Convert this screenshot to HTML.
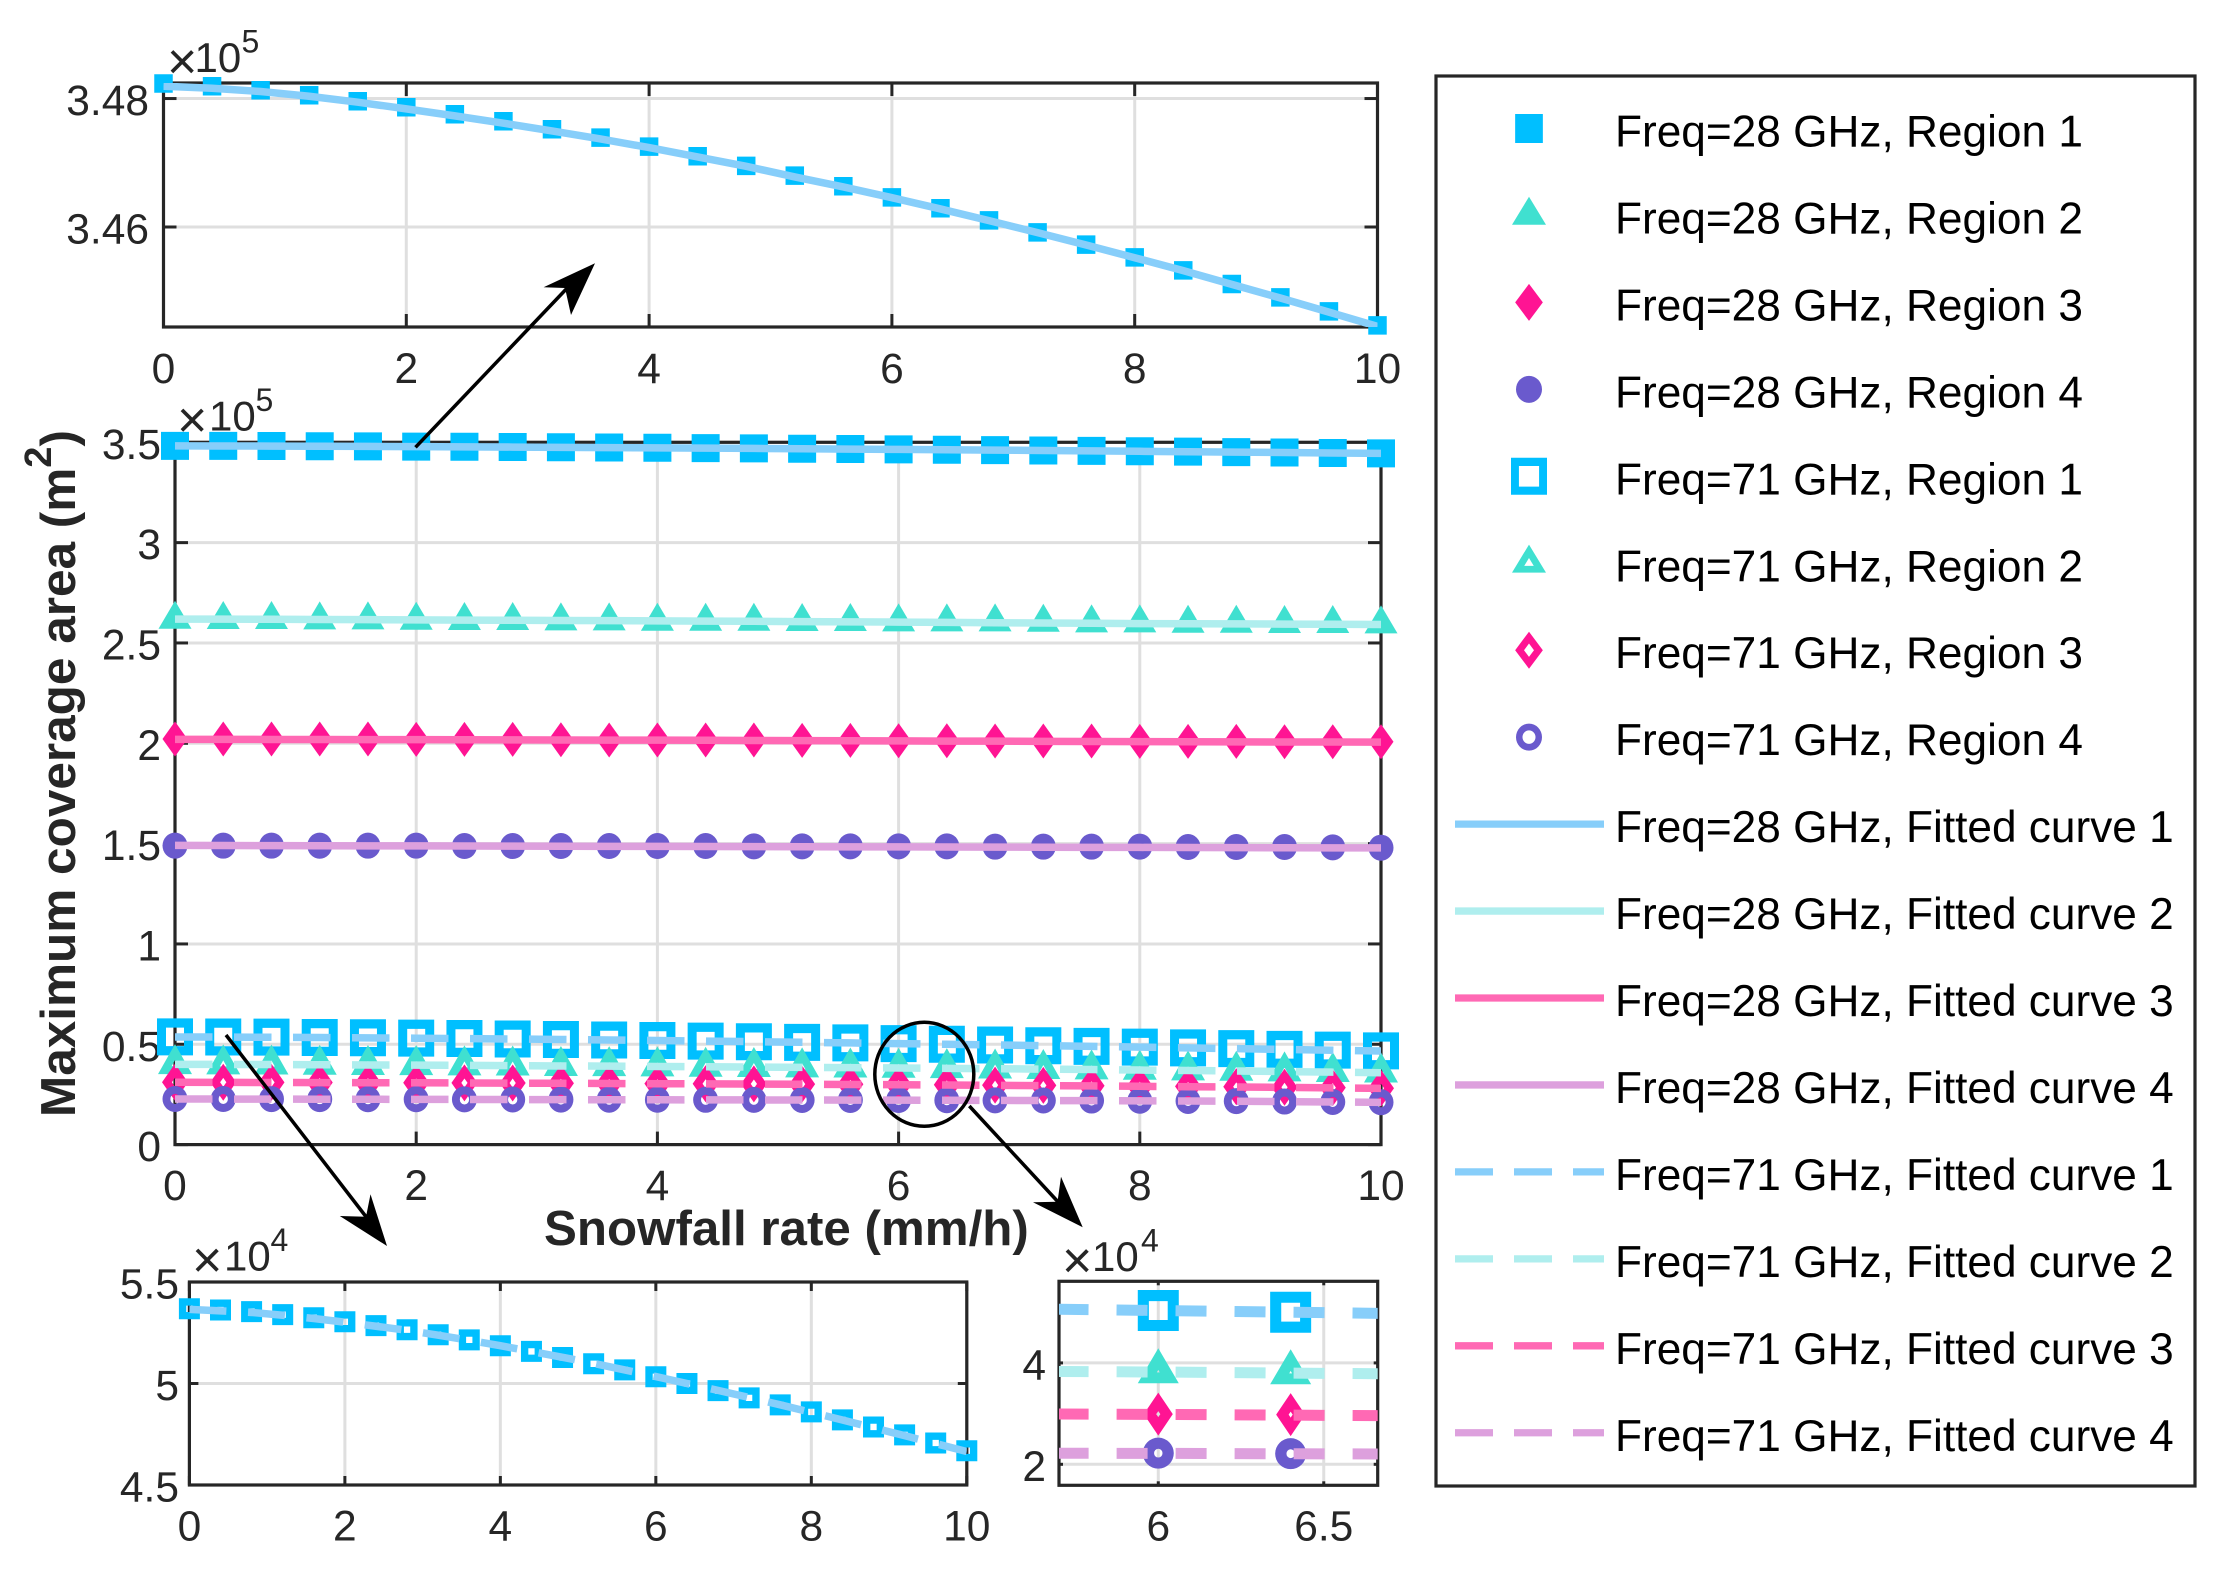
<!DOCTYPE html>
<html lang="en">
<head>
<meta charset="utf-8">
<title>Maximum coverage area vs snowfall rate</title>
<style>
html,body{margin:0;padding:0;background:#fff;}
svg{display:block;font-family:"Liberation Sans",sans-serif;}
</style>
</head>
<body>
<svg id="figure" xmlns="http://www.w3.org/2000/svg" width="2235" height="1585" viewBox="0 0 2235 1585">
  <rect x="0" y="0" width="2235" height="1585" fill="#fff"/>
  <defs>
    <clipPath id="clip-top"><rect x="163.5" y="83" width="1214" height="244"/></clipPath>
    <clipPath id="clip-main"><rect x="175" y="442" width="1206" height="703"/></clipPath>
    <clipPath id="clip-left"><rect x="189.4" y="1282" width="777.4" height="203"/></clipPath>
    <clipPath id="clip-right"><rect x="1059" y="1281.3" width="318.7" height="204"/></clipPath>
  </defs>
  <g id="plots"></g>
  <text transform="translate(75,1117) rotate(-90)" font-size="49.5" font-weight="700" fill="#262626">Maximum coverage area (m<tspan dy="-24" font-size="38">2</tspan><tspan dy="24">)</tspan></text>
  <text x="544" y="1245" font-size="49.3" font-weight="700" fill="#262626">Snowfall rate (mm/h)</text>
  <g>
    <line x1="415.5" y1="447.3" x2="572" y2="283" stroke="#000" stroke-width="3.5"/>
    <polygon points="595,263.3 543.6,287.3 565,288 571,315" fill="#000"/>
  </g>
  <g>
    <line x1="226" y1="1035" x2="367" y2="1218" stroke="#000" stroke-width="3.5"/>
    <polygon points="387,1246 339.8,1216 366,1216.7 370.5,1194.3" fill="#000"/>
  </g>
  <g>
    <line x1="969.3" y1="1106" x2="1060" y2="1204" stroke="#000" stroke-width="3.5"/>
    <polygon points="1082.7,1227.3 1033,1202.3 1057.5,1201.7 1061,1176.7" fill="#000"/>
  </g>
  <ellipse cx="924.3" cy="1074.3" rx="49.5" ry="52" fill="none" stroke="#000" stroke-width="3.5"/>
  <g id="legend">
    <rect x="1436" y="76" width="759" height="1410" fill="#fff" stroke="#262626" stroke-width="3.2"/>
  </g>
</svg>
<script>
// Snowfall rate samples (mm/h)
const snowfallRate = [0,0.4,0.8,1.2,1.6,2,2.4,2.8,3.2,3.6,4,4.4,4.8,5.2,5.6,6,6.4,6.8,7.2,7.6,8,8.4,8.8,9.2,9.6,10];
// Measured coverage, units of 1e5 m^2
const marker28Region1 = [3.48234,3.48192,3.4813,3.48052,3.47958,3.47865,3.47756,3.47647,3.47522,3.47392,3.47252,3.47101,3.46951,3.468,3.46634,3.46462,3.46291,3.46104,3.45917,3.45725,3.45527,3.45325,3.45112,3.44904,3.44686,3.44468];
const marker28Region2 = [2.6176,2.6159,2.6159,2.6143,2.6143,2.6126,2.611,2.611,2.6093,2.6093,2.6076,2.6076,2.6076,2.606,2.606,2.6043,2.6043,2.6043,2.6026,2.5993,2.5993,2.5977,2.5977,2.596,2.596,2.5943];
const marker28Region3 = [2.0212,2.0212,2.0212,2.0212,2.0212,2.0195,2.0195,2.0195,2.0179,2.0162,2.0162,2.0162,2.0162,2.0146,2.0146,2.0129,2.0129,2.0112,2.0112,2.0112,2.0096,2.0096,2.0096,2.0079,2.0079,2.0079];
const marker28Region4 = [1.4897,1.4897,1.4897,1.4897,1.4897,1.4897,1.488,1.488,1.488,1.488,1.488,1.488,1.4863,1.4863,1.4863,1.4863,1.4863,1.4847,1.4847,1.4847,1.4847,1.483,1.483,1.483,1.4813,1.4797];
const marker71Region1 = [0.5368,0.5362,0.5354,0.5339,0.5324,0.5304,0.5285,0.5265,0.524,0.5215,0.5186,0.5158,0.5128,0.5097,0.5067,0.5033,0.5,0.4965,0.4929,0.4895,0.486,0.4821,0.4786,0.4747,0.4707,0.4669];
const marker71Region2 = [0.401,0.4,0.399,0.398,0.397,0.396,0.395,0.394,0.392,0.391,0.39,0.388,0.387,0.385,0.384,0.383,0.381,0.379,0.377,0.375,0.373,0.37,0.368,0.365,0.362,0.359];
const marker71Region3 = [0.311,0.3105,0.31,0.3095,0.309,0.308,0.3075,0.307,0.306,0.305,0.304,0.3035,0.3025,0.3015,0.3005,0.299,0.298,0.2965,0.295,0.2935,0.292,0.29,0.288,0.286,0.284,0.281];
const marker71Region4 = [0.2275,0.2272,0.2268,0.2265,0.226,0.2258,0.2252,0.2248,0.2242,0.2238,0.2235,0.2232,0.2228,0.2225,0.2222,0.222,0.221,0.2205,0.22,0.2195,0.2185,0.2175,0.2165,0.2145,0.2125,0.211];
// Fitted curves, units of 1e5 m^2
const fit28Curve1 = [3.48192,3.48161,3.48109,3.48036,3.47943,3.47839,3.4773,3.47616,3.47496,3.47371,3.47236,3.47091,3.46945,3.46779,3.46623,3.46457,3.46281,3.46099,3.45912,3.4572,3.45522,3.4532,3.45106,3.44894,3.44675,3.44452];
const fit28Curve2 = [2.619,2.6185,2.618,2.617,2.616,2.615,2.614,2.613,2.612,2.611,2.61,2.609,2.608,2.6065,2.605,2.604,2.6025,2.601,2.5995,2.598,2.5965,2.5955,2.595,2.594,2.593,2.592];
const fit28Curve3 = [2.0195,2.0195,2.019,2.019,2.0185,2.018,2.0175,2.017,2.0165,2.016,2.0155,2.015,2.014,2.0135,2.0125,2.012,2.011,2.0105,2.0095,2.009,2.008,2.0075,2.007,2.0065,2.0065,2.006];
const fit28Curve4 = [1.491,1.4905,1.49,1.4895,1.489,1.4885,1.488,1.4875,1.487,1.4865,1.486,1.4855,1.485,1.4845,1.484,1.4835,1.483,1.4825,1.482,1.4815,1.481,1.4805,1.48,1.4795,1.479,1.4785];
const fit71Curve1 = [0.5365,0.5358,0.535,0.5336,0.532,0.5302,0.5282,0.5262,0.5238,0.5213,0.5186,0.5158,0.5129,0.5099,0.5067,0.5034,0.5,0.4966,0.4931,0.4895,0.4858,0.482,0.4782,0.4743,0.4704,0.4665];
const fit71Curve2 = [0.4,0.3995,0.399,0.398,0.397,0.396,0.395,0.3935,0.392,0.391,0.3895,0.388,0.3865,0.385,0.3835,0.382,0.38,0.378,0.376,0.374,0.3715,0.3695,0.367,0.364,0.361,0.358];
const fit71Curve3 = [0.3105,0.31,0.3095,0.309,0.3085,0.308,0.307,0.306,0.3055,0.3045,0.3035,0.3025,0.3015,0.3005,0.2995,0.2985,0.297,0.2955,0.294,0.2925,0.2905,0.2885,0.287,0.285,0.2825,0.2805];
const fit71Curve4 = [0.2272,0.227,0.2266,0.2262,0.2258,0.2255,0.225,0.2245,0.224,0.2236,0.2232,0.2228,0.2225,0.2222,0.2219,0.2216,0.2208,0.2202,0.2196,0.219,0.2182,0.2172,0.2162,0.2142,0.2124,0.2107];
// Tick values and printed tick labels
const topXTicks = [0,2,4,6,8,10];
const topYTicks = [3.46,3.48];
const topYLabels = ["3.46","3.48"];
const mainXTicks = [0,2,4,6,8,10];
const mainYTicks = [0,0.5,1,1.5,2,2.5,3,3.5];
const mainYLabels = ["0","0.5","1","1.5","2","2.5","3","3.5"];
const leftXTicks = [0,2,4,6,8,10];
const leftYTicks = [0.45,0.5,0.55];
const leftYLabels = ["4.5","5","5.5"];
const rightXTicks = [6,6.5];
const rightXLabels = ["6","6.5"];
const rightYTicks = [0.2,0.4];
const rightYLabels = ["2","4"];
// Legend text
const legendLabels = ["Freq=28 GHz, Region 1","Freq=28 GHz, Region 2","Freq=28 GHz, Region 3","Freq=28 GHz, Region 4","Freq=71 GHz, Region 1","Freq=71 GHz, Region 2","Freq=71 GHz, Region 3","Freq=71 GHz, Region 4","Freq=28 GHz, Fitted curve 1","Freq=28 GHz, Fitted curve 2","Freq=28 GHz, Fitted curve 3","Freq=28 GHz, Fitted curve 4","Freq=71 GHz, Fitted curve 1","Freq=71 GHz, Fitted curve 2","Freq=71 GHz, Fitted curve 3","Freq=71 GHz, Fitted curve 4"];

const NS = 'http://www.w3.org/2000/svg';
const INK = '#262626', GRID = '#dfdfdf';
const markColors = ['#00BFFF','#40E0D0','#FF1493','#6A5ACD'];
const lineColors = ['#87CEFA','#AFEEEE','#FF69B4','#DDA0DD'];
const kinds = ['square','triangle','diamond','circle'];
const markers28 = [marker28Region1,marker28Region2,marker28Region3,marker28Region4];
const markers71 = [marker71Region1,marker71Region2,marker71Region3,marker71Region4];
const fits28 = [fit28Curve1,fit28Curve2,fit28Curve3,fit28Curve4];
const fits71 = [fit71Curve1,fit71Curve2,fit71Curve3,fit71Curve4];

function make(tag, parent){
  const el = document.createElementNS(NS, tag);
  parent.appendChild(el);
  return el;
}
function fmt(n){ return (Math.round(n*100)/100).toString(); }
function circ(cx,cy,rx,ry){
  return 'M'+fmt(cx-rx)+' '+fmt(cy)+'A'+fmt(rx)+' '+fmt(ry)+' 0 1 0 '+fmt(cx+rx)+' '+fmt(cy)+'A'+fmt(rx)+' '+fmt(ry)+' 0 1 0 '+fmt(cx-rx)+' '+fmt(cy)+'Z';
}
function poly(pts){ return 'M'+pts.map(p=>fmt(p[0])+' '+fmt(p[1])).join('L')+'Z'; }
function shapePath(kind,cx,cy,w,h,k){
  k = k===undefined?1:k;
  if(kind==='square') return poly([[cx-w*k/2,cy-h*k/2],[cx+w*k/2,cy-h*k/2],[cx+w*k/2,cy+h*k/2],[cx-w*k/2,cy+h*k/2]]);
  if(kind==='triangle') return poly([[cx,cy-2*h*k/3],[cx+w*k/2,cy+h*k/3],[cx-w*k/2,cy+h*k/3]]);
  if(kind==='diamond') return poly([[cx,cy-h*k/2],[cx+w*k/2,cy],[cx,cy+h*k/2],[cx-w*k/2,cy]]);
  return circ(cx,cy,w*k/2,h*k/2);
}
function markerD(kind,cx,cy,spec){
  let d = shapePath(kind,cx,cy,spec[0],spec[1]);
  if(spec[2]) d += shapePath(kind,cx,cy,spec[0],spec[1],spec[2]);
  return d;
}
const mainFilled = {square:[28,28],triangle:[33,28],diamond:[25,35],circle:[25,26]};
const mainHollow = {square:[36,37,0.5],triangle:[34,30,0.2],diamond:[26,37,0.24],circle:[25,26,0.37]};

function buildAxes(root, cfg){
  const g = make('g', root);
  
  
  const sx = v => cfg.left + (v-cfg.xMin)/(cfg.xMax-cfg.xMin)*(cfg.right-cfg.left);
  const sy = v => cfg.bottom - (v-cfg.yMin)/(cfg.yMax-cfg.yMin)*(cfg.bottom-cfg.top);
  cfg.xTicks.forEach(function(t){
    const line = make('line', g);
    
    
    line.setAttribute('x1', sx(t)); line.setAttribute('x2', sx(t));
    line.setAttribute('y1', cfg.top); line.setAttribute('y2', cfg.bottom);
    line.setAttribute('stroke', GRID); line.setAttribute('stroke-width', 3);
  });
  cfg.yTicks.forEach(function(t){
    const line = make('line', g);
    
    
    line.setAttribute('x1', cfg.left); line.setAttribute('x2', cfg.right);
    line.setAttribute('y1', sy(t)); line.setAttribute('y2', sy(t));
    line.setAttribute('stroke', GRID); line.setAttribute('stroke-width', 3);
  });
  const box = make('rect', g);
  
  
  box.setAttribute('x', cfg.left); box.setAttribute('y', cfg.top);
  box.setAttribute('width', cfg.right-cfg.left); box.setAttribute('height', cfg.bottom-cfg.top);
  box.setAttribute('fill', 'none'); box.setAttribute('stroke', INK); box.setAttribute('stroke-width', 3.2);
  const tl = cfg.tickLen;
  cfg.xTicks.forEach(function(t){
    [[cfg.top,cfg.top+tl],[cfg.bottom,cfg.bottom-tl]].forEach(function(p){
      const line = make('line', g);
      
      
      line.setAttribute('x1', sx(t)); line.setAttribute('x2', sx(t));
      line.setAttribute('y1', p[0]); line.setAttribute('y2', p[1]);
      line.setAttribute('stroke', INK); line.setAttribute('stroke-width', 3);
    });
  });
  cfg.yTicks.forEach(function(t){
    [[cfg.left,cfg.left+tl],[cfg.right,cfg.right-tl]].forEach(function(p){
      const line = make('line', g);
      
      
      line.setAttribute('y1', sy(t)); line.setAttribute('y2', sy(t));
      line.setAttribute('x1', p[0]); line.setAttribute('x2', p[1]);
      line.setAttribute('stroke', INK); line.setAttribute('stroke-width', 3);
    });
  });
  cfg.xTicks.forEach(function(t,i){
    const txt = make('text', g);
    
    
    txt.setAttribute('x', sx(t)+(cfg.xLabelDx||0));
    txt.setAttribute('y', cfg.xLabelY);
    txt.setAttribute('text-anchor', 'middle');
    txt.setAttribute('font-size', 42.5);
    txt.setAttribute('fill', INK);
    txt.textContent = cfg.xLabels ? cfg.xLabels[i] : String(t);
  });
  cfg.yTicks.forEach(function(t,i){
    const txt = make('text', g);
    
    
    txt.setAttribute('x', cfg.yLabelX);
    txt.setAttribute('y', sy(t)+16.5);
    txt.setAttribute('text-anchor', 'end');
    txt.setAttribute('font-size', 42.5);
    txt.setAttribute('fill', INK);
    txt.textContent = cfg.yLabels[i];
  });
  const m = cfg.mult;
  const times = make('text', g);
  
  
  times.setAttribute('x', m.x); times.setAttribute('y', m.y+7);
  times.setAttribute('font-size', 52); times.setAttribute('fill', INK);
  times.textContent = '×';
  const base = make('text', g);
  
  
  base.setAttribute('x', m.x10); base.setAttribute('y', m.y);
  base.setAttribute('font-size', 42); base.setAttribute('fill', INK);
  base.textContent = '10';
  const exp = make('text', g);
  
  
  exp.setAttribute('x', m.xe); exp.setAttribute('y', m.y-19.5);
  exp.setAttribute('font-size', 32); exp.setAttribute('fill', INK);
  exp.textContent = m.exp;
  return {g:g, sx:sx, sy:sy, cfg:cfg};
}
function drawMarkers(ax, values, kind, color, spec, name){
  const g = make('g', ax.g);
  
  
  snowfallRate.forEach(function(x,i){
    if(x < ax.cfg.xMin || x > ax.cfg.xMax) return;
    const p = make('path', g);
    
    
    p.setAttribute('d', markerD(kind, ax.sx(x), ax.sy(values[i]), spec));
    p.setAttribute('fill', color);
    p.setAttribute('fill-rule', 'evenodd');
  });
}
function drawCurve(ax, values, color, width, dash, offset, name){
  const p = make('polyline', ax.g);
  
  
  p.setAttribute('points', snowfallRate.map((x,i)=>fmt(ax.sx(x))+','+fmt(ax.sy(values[i]))).join(' '));
  p.setAttribute('fill', 'none');
  p.setAttribute('stroke', color);
  p.setAttribute('stroke-width', width);
  if(dash) p.setAttribute('stroke-dasharray', dash);
  if(offset) p.setAttribute('stroke-dashoffset', offset);
  p.setAttribute('clip-path', 'url(#'+ax.cfg.clip+')');
}

const plots = document.getElementById('plots');

// Top inset: 28 GHz region 1
const topAxes = buildAxes(plots, {name:'top-inset-axes',left:163.5,right:1377.5,top:83,bottom:327,xMin:0,xMax:10,yMin:3.44443,yMax:3.48242,
  xTicks:topXTicks,yTicks:topYTicks,yLabels:topYLabels,tickLen:13,xLabelY:383,yLabelX:149,clip:'clip-top',
  mult:{x:167,x10:194.5,xe:241.5,y:72,exp:'5'}});
drawMarkers(topAxes, marker28Region1, 'square', markColors[0], [18.5,18.5], 'top-inset-markers-28ghz-region-1');
drawCurve(topAxes, fit28Curve1, lineColors[0], 7.5, null, 0, 'top-inset-fit-28ghz-curve-1');

// Main axes
const mainAxes = buildAxes(plots, {name:'main-axes',left:175,right:1381,top:442.3,bottom:1144.6,xMin:0,xMax:10,yMin:0,yMax:3.5,
  xTicks:mainXTicks,yTicks:mainYTicks,yLabels:mainYLabels,tickLen:13,xLabelY:1200,yLabelX:161,clip:'clip-main',
  mult:{x:177,x10:209,xe:255.5,y:430.7,exp:'5'}});
markers28.forEach(function(vals,i){
  drawMarkers(mainAxes, vals, kinds[i], markColors[i], mainFilled[kinds[i]], 'main-markers-28ghz-region-'+(i+1));
});
markers71.forEach(function(vals,i){
  drawMarkers(mainAxes, vals, kinds[i], markColors[i], mainHollow[kinds[i]], 'main-markers-71ghz-region-'+(i+1));
});
fits28.forEach(function(vals,i){
  drawCurve(mainAxes, vals, lineColors[i], 7.5, null, 0, 'main-fit-28ghz-curve-'+(i+1));
});
fits71.forEach(function(vals,i){
  drawCurve(mainAxes, vals, lineColors[i], 7.5, '37.5 21.5', 0, 'main-fit-71ghz-curve-'+(i+1));
});

// Bottom-left inset: 71 GHz region 1
const leftAxes = buildAxes(plots, {name:'bottom-left-inset-axes',left:189.4,right:966.8,top:1282,bottom:1485,xMin:0,xMax:10,yMin:0.45,yMax:0.55,
  xTicks:leftXTicks,yTicks:leftYTicks,yLabels:leftYLabels,tickLen:9,xLabelY:1540.7,yLabelX:179,clip:'clip-left',
  mult:{x:192,x10:224,xe:270.5,y:1270.7,exp:'4'}});
drawMarkers(leftAxes, marker71Region1, 'square', markColors[0], [21,21,0.3], 'left-inset-markers-71ghz-region-1');
drawCurve(leftAxes, fit71Curve1, lineColors[0], 7.5, '37 21.7', 0, 'left-inset-fit-71ghz-curve-1');

// Bottom-right inset: all 71 GHz series around x = 6
const rightAxes = buildAxes(plots, {name:'bottom-right-inset-axes',left:1059,right:1377.7,top:1281.3,bottom:1485.3,xMin:5.7,xMax:6.663,yMin:0.1586,yMax:0.561,
  xTicks:rightXTicks,xLabels:rightXLabels,yTicks:rightYTicks,yLabels:rightYLabels,tickLen:4,xLabelY:1540.7,yLabelX:1046,clip:'clip-right',
  mult:{x:1062,x10:1092,xe:1141,y:1271,exp:'4'}});
const rightHollow = {square:[41,41,0.46],triangle:[41,35,0.07],diamond:[29,43,0.14],circle:[31,31,0.27]};
markers71.forEach(function(vals,i){
  drawMarkers(rightAxes, vals, kinds[i], markColors[i], rightHollow[kinds[i]], 'right-inset-markers-71ghz-region-'+(i+1));
});
fits71.forEach(function(vals,i){
  drawCurve(rightAxes, vals, lineColors[i], 11, '31 28', -56, 'right-inset-fit-71ghz-curve-'+(i+1));
});

// Legend
const legend = document.getElementById('legend');
const legendFilled = {square:[27.7,29],triangle:[34,28],diamond:[27.7,37],circle:[26,27]};
const legendHollow = {square:[36,37,0.56],triangle:[34,28,0.28],diamond:[27.7,37,0.36],circle:[26,27,0.5]};
legendLabels.forEach(function(label,i){
  const rowY = 128.5 + i*86.95;
  const row = make('g', legend);
  
  
  if(i < 8){
    const k = kinds[i%4];
    const p = make('path', row);
    
    
    p.setAttribute('d', markerD(k, 1529, rowY, (i<4?legendFilled:legendHollow)[k]));
    p.setAttribute('fill', markColors[i%4]);
    p.setAttribute('fill-rule', 'evenodd');
  } else {
    const l = make('line', row);
    
    
    l.setAttribute('x1', 1455); l.setAttribute('x2', 1604);
    l.setAttribute('y1', rowY); l.setAttribute('y2', rowY);
    l.setAttribute('stroke', lineColors[i%4]);
    l.setAttribute('stroke-width', 7.3);
    if(i >= 12) l.setAttribute('stroke-dasharray', '38 21');
  }
  const t = make('text', row);
  
  
  t.setAttribute('x', 1615);
  t.setAttribute('y', 146.5 + i*86.95);
  t.setAttribute('font-size', 44.2);
  t.setAttribute('fill', '#000');
  t.textContent = label;
});
</script>
</body>
</html>
